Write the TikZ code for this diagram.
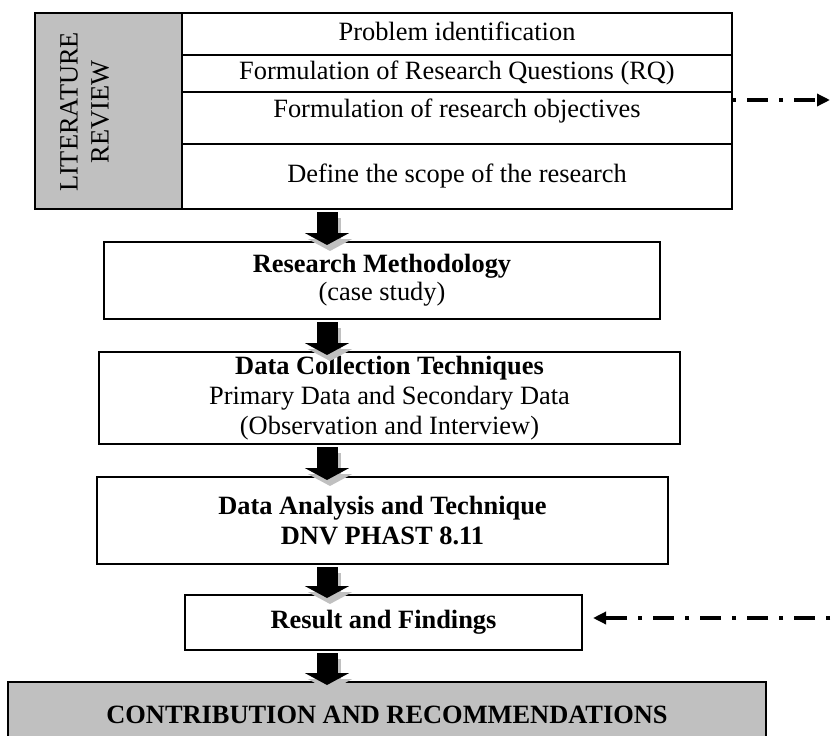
\documentclass[tikz,border=0pt]{standalone}
\usepackage{fontspec}
\setmainfont{Liberation Serif}
\usetikzlibrary{positioning,arrows.meta}
\definecolor{boxgray}{RGB}{192,192,192}

\begin{document}
\begin{tikzpicture}[x=1pt,y=-1pt,font=\fontsize{26.4}{30}\selectfont,line join=miter,
    box/.style={draw,line width=2.6pt,inner sep=0pt,outer sep=0pt,align=center},
    row/.style={box,minimum width=550pt,text height=18pt,text depth=6pt,anchor=north west},
    flow/.style={line width=21pt,-{Triangle[length=12pt,width=44pt]},shorten <=3pt,shorten >=-3pt},
    linkline/.style={line width=3.4pt,dash pattern=on 4pt off 11pt on 21pt off 11pt,-{Triangle[length=13pt,width=12pt]}}]
    \clip (0,0) rectangle (833,736);
    % literature review block
    \node[box,fill=boxgray,minimum width=147pt,minimum height=196pt,anchor=north west] (litrev) at (35,13) {};
    \node[rotate=90,align=center,font=\fontsize{26.4}{31}\selectfont] (litrevtext) at (84.5,112) {LITERATURE\\REVIEW};
    \node[row,minimum height=42pt] (prob) at (182,13) {Problem identification};
    \node[row,minimum height=37pt,below=0pt of prob] (rq) {Formulation of Research Questions (RQ)};
    \node[row,minimum height=52pt,text depth=19pt,below=0pt of rq] (obj) {Formulation of research objectives};
    \node[row,minimum height=65pt,below=0pt of obj] (scope) {Define the scope of the research};
    % steps
    \node[box,minimum width=556pt,minimum height=77pt] (meth) at (382,280.5) {\textbf{Research Methodology}\\[-2pt](case study)};
    \node[box,minimum width=581pt,minimum height=92pt] (coll) at (389.5,398) {\textbf{Data Collection Techniques}\\Primary Data and Secondary Data\\(Observation and Interview)};
    \node[box,minimum width=571pt,minimum height=87pt] (anal) at (382.5,520.5) {\textbf{Data Analysis and Technique}\\\textbf{DNV PHAST 8.11}};
    \node[box,minimum width=397pt,minimum height=55pt] (res) at (383.5,622.5) {\textbf{Result and Findings}};
    \node[box,fill=boxgray,minimum width=758pt,minimum height=66pt] (contrib) at (387,715) {\textbf{CONTRIBUTION AND RECOMMENDATIONS}};
    % block arrows
    \coordinate (ax) at (327,0);
    \foreach \a/\b in {scope/meth,meth/coll,coll/anal,anal/res,res/contrib}{
        \draw[flow,draw=boxgray,transform canvas={shift={(3pt,-6pt)}}] (\a.south -| ax) -- (\b.north -| ax);
        \draw[flow] (\a.south -| ax) -- (\b.north -| ax);
    }
    % dashed links
    \coordinate (objend) at (830,100);
    \draw[linkline] (objend -| obj.east) -- (objend);
    \coordinate (resstart) at (830,618);
    \draw[linkline,shorten >=11pt] (resstart) -- (resstart -| res.east);
\end{tikzpicture}
\end{document}
